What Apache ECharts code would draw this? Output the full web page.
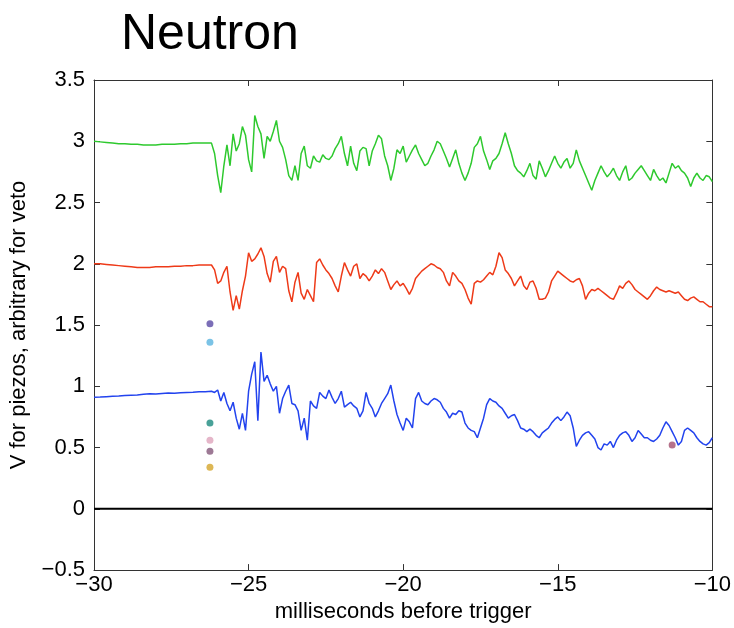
<!DOCTYPE html>
<html>
<head>
<meta charset="utf-8">
<script src="https://cdn.jsdelivr.net/npm/echarts@6/dist/echarts.min.js"></script>
<style>html,body{margin:0;padding:0;background:#fff;}#c{width:734px;height:628px;}</style>
</head>
<body>
<div id="c"></div>
<script>
// ---- data ----
const titleText = 'Neutron';
const xName = 'milliseconds before trigger';
const yName = 'V for piezos, arbitrary for veto';
const xTicks = [-30, -25, -20, -15, -10];
const yTicks = [-0.5, 0, 0.5, 1, 1.5, 2, 2.5, 3, 3.5];

// pre-trigger samples: t = -30 ... -26.2 every 0.2 ms
const preStart = -30, preStep = 0.2;
// post-trigger samples: t = -26.1 ... -10.0 every 0.1 ms
const postStart = -26.1, postStep = 0.1;

const greenPre = [3.00,2.995,2.99,2.985,2.98,2.98,2.975,2.975,2.97,2.97,2.97,2.975,2.975,2.975,2.98,2.98,2.985,2.985,2.985,2.985];
const greenPost = [
  2.90,2.72,2.58,2.80,2.97,2.80,3.06,2.92,2.98,3.12,
  3.05,2.85,2.75,3.21,3.12,3.06,2.86,3.04,3.00,3.08,
  3.17,3.00,2.95,2.85,2.72,2.68,2.80,2.68,2.90,2.96,
  2.80,2.78,2.88,2.84,2.83,2.89,2.86,2.85,2.88,2.94,
  2.98,3.04,2.90,2.80,2.96,2.82,2.76,2.92,2.95,2.94,
  2.80,2.92,2.98,3.05,3.02,2.88,2.80,2.68,2.78,2.93,
  2.90,2.96,2.83,2.88,2.93,2.97,2.90,2.85,2.80,2.82,
  2.88,2.93,3.00,2.98,2.92,2.86,2.79,2.86,2.93,2.82,
  2.74,2.68,2.74,2.82,2.95,2.98,3.04,2.92,2.85,2.77,
  2.84,2.86,2.90,2.98,3.07,2.98,2.90,2.80,2.76,2.74,
  2.71,2.76,2.82,2.72,2.69,2.84,2.78,2.71,2.76,2.82,
  2.88,2.82,2.78,2.83,2.86,2.78,2.82,2.93,2.84,2.78,
  2.72,2.66,2.60,2.68,2.74,2.80,2.75,2.71,2.74,2.78,
  2.72,2.68,2.75,2.80,2.68,2.70,2.74,2.77,2.80,2.76,
  2.72,2.68,2.77,2.72,2.68,2.70,2.66,2.74,2.82,2.78,
  2.80,2.76,2.74,2.70,2.63,2.70,2.74,2.70,2.68,2.72,
  2.71,2.67
];

const redPre = [2.00,2.00,1.995,1.99,1.985,1.98,1.975,1.97,1.97,1.97,1.975,1.975,1.975,1.98,1.98,1.985,1.985,1.99,1.99,1.99];
const redPost = [
  1.95,1.84,1.86,1.93,1.98,1.77,1.62,1.74,1.63,1.78,
  1.90,2.09,2.02,2.04,2.08,2.13,2.06,1.92,1.85,2.02,
  2.06,1.93,1.98,1.96,1.78,1.69,1.85,1.93,1.76,1.71,
  1.79,1.74,1.69,2.01,2.04,1.99,1.95,1.92,1.88,1.82,
  1.77,1.90,2.01,1.95,1.90,1.98,2.00,1.88,1.92,1.90,
  1.86,1.90,1.95,1.92,1.96,1.93,1.86,1.79,1.83,1.86,
  1.82,1.84,1.80,1.75,1.80,1.88,1.91,1.94,1.96,1.98,
  2.00,1.99,1.97,1.96,1.93,1.86,1.82,1.93,1.90,1.86,
  1.84,1.79,1.72,1.67,1.84,1.86,1.85,1.87,1.90,1.93,
  1.91,1.98,2.09,2.05,1.95,1.92,1.88,1.82,1.86,1.90,
  1.82,1.79,1.85,1.86,1.80,1.71,1.71,1.72,1.77,1.86,
  1.90,1.94,1.92,1.90,1.88,1.86,1.85,1.87,1.88,1.82,
  1.71,1.76,1.79,1.78,1.80,1.78,1.76,1.74,1.72,1.71,
  1.76,1.82,1.80,1.84,1.86,1.83,1.79,1.77,1.75,1.73,
  1.71,1.74,1.78,1.81,1.79,1.78,1.77,1.78,1.77,1.76,
  1.77,1.74,1.71,1.70,1.72,1.73,1.71,1.69,1.69,1.67,
  1.65,1.65
];

const bluePre = [0.91,0.912,0.915,0.918,0.92,0.925,0.928,0.93,0.935,0.94,0.938,0.942,0.945,0.944,0.948,0.95,0.952,0.955,0.955,0.96];
const bluePost = [
  0.95,0.97,0.88,0.95,0.86,0.80,0.87,0.74,0.65,0.78,
  0.64,0.96,1.10,1.20,0.72,1.28,1.04,1.09,1.02,0.96,
  1.00,0.78,0.90,0.96,1.01,0.86,0.85,0.80,0.64,0.74,
  0.56,0.88,0.84,0.82,0.95,0.92,0.90,0.97,0.91,0.86,
  0.90,0.96,0.83,0.85,0.87,0.84,0.82,0.75,0.80,0.95,
  0.86,0.82,0.75,0.80,0.86,0.90,0.94,1.01,0.88,0.77,
  0.70,0.64,0.74,0.71,0.66,0.90,0.95,0.88,0.86,0.85,
  0.88,0.90,0.89,0.87,0.82,0.79,0.74,0.78,0.77,0.80,
  0.79,0.70,0.66,0.64,0.63,0.58,0.66,0.74,0.85,0.90,
  0.88,0.87,0.84,0.82,0.78,0.74,0.76,0.77,0.72,0.66,
  0.65,0.63,0.65,0.63,0.60,0.58,0.62,0.64,0.66,0.70,
  0.73,0.75,0.72,0.75,0.79,0.76,0.66,0.51,0.56,0.60,
  0.62,0.63,0.60,0.57,0.50,0.48,0.53,0.52,0.55,0.50,
  0.56,0.60,0.62,0.63,0.60,0.55,0.58,0.64,0.61,0.58,
  0.58,0.56,0.55,0.57,0.60,0.66,0.71,0.68,0.63,0.58,
  0.52,0.55,0.64,0.66,0.64,0.62,0.58,0.55,0.53,0.52,
  0.54,0.58
];

const zeroLineX = [-30, -10];
const zeroLineY = [0, 0];

const dotX = [-26.25, -26.25, -26.25, -26.25, -26.25, -26.25, -11.3];
const dotY = [1.51, 1.36, 0.70, 0.56, 0.47, 0.34, 0.52];
const dotColors = ['#5a4aa5', '#5ab4e0', '#1b8a7e', '#dea4bb', '#85587a', '#d4a52a', '#a4506e'];

// ---- build ----
function r1(v){ return Math.round(v*100)/100; }
function trace(pre, post){
  const out = [];
  pre.forEach((v,i)=>out.push([r1(preStart + i*preStep), v]));
  post.forEach((v,i)=>out.push([r1(postStart + i*postStep), v]));
  return out;
}
const FONT = "'Liberation Sans', Arial, Helvetica, sans-serif";
const fmtMinus = v => (v < 0 ? '\u2212' + String(Math.abs(v)) : String(v));

const chart = echarts.init(document.getElementById('c'), null, {renderer:'canvas'});
const axisLineStyle = {color:'#333', width:1};
const tickStyle = {show:true, inside:true, length:6, lineStyle:axisLineStyle};
chart.setOption({
  backgroundColor:'#fff',
  animation:false,
  title:{text:titleText, left:116, top:5, textStyle:{fontFamily:FONT, fontSize:50, fontWeight:'normal', color:'#000'}},
  grid:{left:93, right:18, top:80, bottom:55},
  xAxis:[{
    type:'value', min:-30, max:-10, interval:5,
    name:xName, nameLocation:'middle', nameGap:23,
    nameTextStyle:{fontFamily:FONT, fontSize:22, color:'#000'},
    axisLine:{show:true, onZero:false, lineStyle:axisLineStyle},
    axisTick:tickStyle,
    axisLabel:{fontFamily:FONT, fontSize:22, color:'#000', margin:4, formatter:fmtMinus},
    splitLine:{show:false}
  },{
    type:'value', min:-30, max:-10, interval:5, position:'top',
    axisLine:{show:true, onZero:false, lineStyle:axisLineStyle},
    axisTick:tickStyle,
    axisLabel:{show:false}, splitLine:{show:false}
  }],
  yAxis:[{
    type:'value', min:-0.5, max:3.5, interval:0.5,
    name:yName, nameLocation:'middle', nameGap:64, nameRotate:90,
    nameTextStyle:{fontFamily:FONT, fontSize:22, color:'#000'},
    axisLine:{show:true, onZero:false, lineStyle:axisLineStyle},
    axisTick:tickStyle,
    axisLabel:{fontFamily:FONT, fontSize:22, color:'#000', margin:9, formatter:fmtMinus},
    splitLine:{show:false}
  },{
    type:'value', min:-0.5, max:3.5, interval:0.5, position:'right',
    axisLine:{show:true, onZero:false, lineStyle:axisLineStyle},
    axisTick:tickStyle,
    axisLabel:{show:false}, splitLine:{show:false}
  }],
  series:[
    {type:'line', data:zeroLineX.map((x,i)=>[x, zeroLineY[i]]), symbol:'none', lineStyle:{color:'#000', width:2}, z:2},
    {type:'line', data:trace(greenPre, greenPost), symbol:'none', lineStyle:{color:'#2ec92e', width:1.5}, z:3},
    {type:'line', data:trace(redPre, redPost), symbol:'none', lineStyle:{color:'#ee3a18', width:1.5}, z:3},
    {type:'line', data:trace(bluePre, bluePost), symbol:'none', lineStyle:{color:'#2243ee', width:1.5}, z:3},
    {type:'scatter', data:dotX.map((x,i)=>({value:[x, dotY[i]], itemStyle:{color:dotColors[i]}})), symbolSize:7, z:4}
  ]
});
</script>
</body>
</html>
